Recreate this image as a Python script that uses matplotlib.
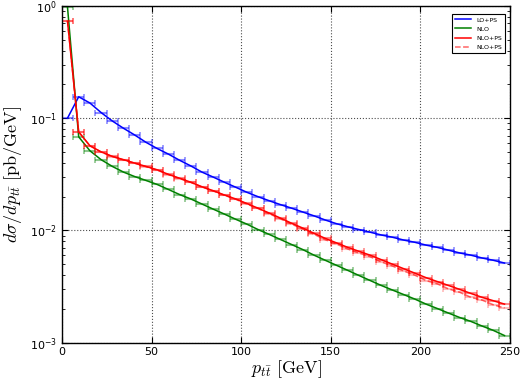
import matplotlib
matplotlib.use("Agg")
import matplotlib.pyplot as plt
import numpy as np

# bins of 6.25 GeV from 0 to 250
bin_edges = np.linspace(0, 250, 41)

lo_ps = [0.100, 0.155, 0.1365, 0.1122, 0.0944, 0.0813, 0.0708, 0.0610, 0.0537, 0.0479,
         0.0422, 0.0376, 0.0331, 0.0299, 0.0269, 0.0243, 0.0219, 0.0200, 0.0184, 0.0170,
         0.0158, 0.0146, 0.0135, 0.0124, 0.0115, 0.0108, 0.0102, 0.00966, 0.00912, 0.00871,
         0.00822, 0.00785, 0.00741, 0.00708, 0.00668, 0.00631, 0.00603, 0.00569, 0.00543, 0.00513]

nlo = [0.977, 0.0682, 0.0513, 0.0427, 0.0372, 0.0331, 0.0302, 0.0279, 0.0257, 0.0232,
       0.0209, 0.0191, 0.0172, 0.0155, 0.0140, 0.0126, 0.0114, 0.0102, 0.00923, 0.00832,
       0.00750, 0.00676, 0.00603, 0.00543, 0.00490, 0.00442, 0.00398, 0.00359, 0.00324, 0.00295,
       0.00269, 0.00245, 0.00221, 0.00202, 0.00184, 0.00168, 0.00155, 0.00141, 0.00129, 0.00116]

nlo_ps = [0.730, 0.0755, 0.0569, 0.0501, 0.0457, 0.0427, 0.0398, 0.0372, 0.0347, 0.0316,
          0.0292, 0.0269, 0.0245, 0.0226, 0.0207, 0.0191, 0.0174, 0.0158, 0.0143, 0.0129,
          0.0116, 0.0105, 0.00944, 0.00851, 0.00776, 0.00708, 0.00653, 0.00603, 0.00550, 0.00501,
          0.00457, 0.00417, 0.00380, 0.00351, 0.00324, 0.00299, 0.00275, 0.00254, 0.00237, 0.00221]

nlo_ps2 = [0.735, 0.0752, 0.0566, 0.0500, 0.0455, 0.0425, 0.0397, 0.0370, 0.0345, 0.0315,
           0.0290, 0.0268, 0.0244, 0.0225, 0.0206, 0.0190, 0.0172, 0.0157, 0.0141, 0.0127,
           0.0114, 0.0103, 0.00925, 0.00828, 0.00758, 0.00685, 0.00630, 0.00585, 0.00525, 0.00483,
           0.00436, 0.00400, 0.00358, 0.00335, 0.00302, 0.00282, 0.00254, 0.00240, 0.00218, 0.00204]

centers = 0.5 * (bin_edges[:-1] + bin_edges[1:])
half = 0.5 * np.diff(bin_edges)

plt.rcParams['mathtext.fontset'] = 'cm'
fig = plt.figure(figsize=(5.2, 3.9), dpi=100)
ax = fig.add_axes([0.119, 0.121, 0.862, 0.864])

series = [
    (lo_ps, 'blue', '-', 1.0, 'LO+PS'),
    (nlo, 'green', '-', 1.0, 'NLO'),
    (nlo_ps, 'red', '-', 1.0, 'NLO+PS'),
    (nlo_ps2, 'red', '--', 0.6, 'NLO+PS'),
]
for y, c, ls, a, lab in series:
    ax.plot(centers, y, color=c, ls=ls, lw=1.1, alpha=a, label=lab)
    ax.errorbar(centers, y, xerr=half, fmt='none', ecolor=c, alpha=0.45 * a,
                elinewidth=1.5, capsize=2.5, capthick=1.2)

ax.set_yscale('log')
ax.set_xlim(0, 250)
ax.set_ylim(1e-3, 1)
ax.set_xticks([0, 50, 100, 150, 200, 250])
ax.grid(True, which='major', color='k', ls=':', lw=0.8, alpha=0.7)
ax.tick_params(which='both', direction='in', top=True, right=True, labelsize=8)
ax.tick_params(which='major', length=4)
ax.tick_params(which='minor', length=2)
ax.tick_params(axis='x', pad=3)
for s in ax.spines.values():
    s.set_linewidth(1.0)

ax.set_xlabel(r'$p_{t\bar{t}}\ [\mathrm{GeV}]$', fontsize=13, labelpad=1)
ax.set_ylabel(r'$d\sigma/dp_{t\bar{t}}\ [\mathrm{pb/GeV}]$', fontsize=13, labelpad=4)

leg = ax.legend(loc='upper right', fontsize=4.5, fancybox=False, framealpha=1,
                edgecolor='black', handlelength=2.5, borderpad=0.5, labelspacing=0.6,
                bbox_to_anchor=(0.995, 0.985))
leg.get_frame().set_linewidth(0.8)

fig.savefig('out.png', dpi=100, facecolor='white')
